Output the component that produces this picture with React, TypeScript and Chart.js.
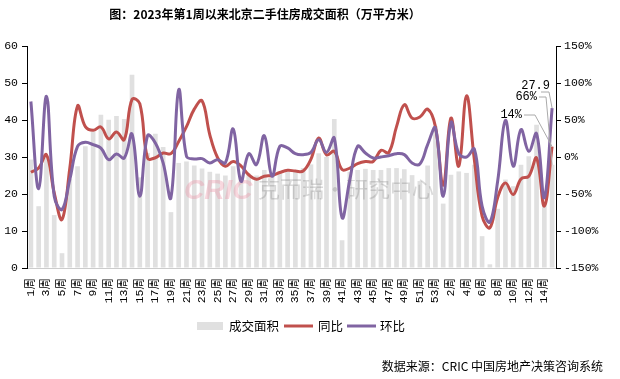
import React, { useEffect, useRef } from "react";
import { Chart, registerables } from "chart.js";

Chart.register(...registerables);

const titleText = "图：2023年第1周以来北京二手住房成交面积（万平方米）";
const sourceText = "数据来源：CRIC 中国房地产决策咨询系统";
const seriesNames = ["成交面积", "同比", "环比"];

const weekLabels: string[] = [
  "1周", "2周", "3周", "4周", "5周", "6周", "7周", "8周", "9周", "10周",
  "11周", "12周", "13周", "14周", "15周", "16周", "17周", "18周", "19周", "20周",
  "21周", "22周", "23周", "24周", "25周", "26周", "27周", "28周", "29周", "30周",
  "31周", "32周", "33周", "34周", "35周", "36周", "37周", "38周", "39周", "40周",
  "41周", "42周", "43周", "44周", "45周", "46周", "47周", "48周", "49周", "50周",
  "51周", "52周", "53周",
  "1周", "2周", "3周", "4周", "5周", "6周", "7周", "8周", "9周", "10周",
  "11周", "12周", "13周", "14周", "15周",
];

// 成交面积（万平方米）
const areaValues: number[] = [
  29.3, 16.7, 30, 14.3, 4.0, 24, 27.5, 32.9, 36.9, 41.4,
  40.1, 41.1, 40.3, 52.2, 24.5, 31.1, 36.3, 32.7, 15.1, 28.4,
  28.8, 27.7, 26.9, 26, 25.5, 25, 27.5, 25, 25.5, 25,
  26.5, 25, 25.5, 26, 26.5, 27, 28, 31, 30, 40.3,
  7.5, 26, 26.5, 26.8, 26.5, 26.5, 27, 27, 26.7, 25.1,
  23.5, 27.7, 38.3, 17.4, 25.2, 26.1, 25.7, 27.9, 8.6, 1.0,
  16.0, 23.9, 22.1, 27.9, 30.2, 38.7, 16.8, 27.9,
];

// 同比（%）
const yoyValues: number[] = [
  -20.6, -15, 3, -48.5, -84.5, -15, 69, 41, 36, 40.5,
  24.5, 33.7, 23.4, 78, 72, -1.5, -1, 5.4, 4.5, 21,
  41, 64.7, 76, 30, -1, -12.5, -6, -12, -24, -30,
  -26, -25, -21, -18, -19, -19, -3, 25.6, 3, 7.7,
  -17, -15, -9, -6, -6, 9, 6, 41, 70.6, 52.6,
  54, 64.7, 41, -38, 52.6, -12.5, 82.7, -3.6, -80, -95.6,
  -55, -35, -50.7, -29.6, -26, -1.3, -66.4, 14,
];

// 环比（%）
const momValues: number[] = [
  75, -43, 82, -53, -71, -30.5, 14.4, 20, 16.7, 12,
  -3.6, 4, -1.3, 31, -53, 28.8, 19, -8, -55, 90.8,
  1, -2.6, -2.2, -8, -3.6, -8, 37.8, -32.8, 4.5, -10.3,
  28.8, -26, 14.4, 12.2, 4.5, 3.2, 6.3, 23.4, 6.3, 25.6,
  -82, -30.5, 14.4, 5.4, -1.3, 0, 1.8, 4.5, 3.2, -8,
  -9.4, 16.7, 39, -53, 46.7, 4.5, 0, 10.8, -66.4, -88,
  -32.8, 49.4, -12.5, 36.9, 7.7, 31.5, -55, 66,
];

const leftAxis = { min: 0, max: 60, step: 10 };
const rightAxis = { min: -150, max: 150, step: 50 };

const BAR_COLOR = "#e0e0e0";
const RED = "#c0504d";
const PURPLE = "#8064a2";
const NUM_FONT = "'Liberation Mono', 'Noto Sans CJK SC', monospace";
const CJK_FONT = "'Noto Sans CJK SC', 'Liberation Sans', sans-serif";

const decorPlugin = {
  id: "decor",
  afterDatasetDraw(chart: any, args: any) {
    if (args.index !== 0) return;
    const ctx = chart.ctx;
    const a = chart.chartArea;
    ctx.save();
    ctx.beginPath();
    ctx.rect(a.left, a.top, a.right - a.left, a.bottom - a.top);
    ctx.clip();
    ctx.textBaseline = "alphabetic";
    ctx.textAlign = "left";
    ctx.font = "italic bold 28px 'Liberation Sans', sans-serif";
    ctx.fillStyle = "rgba(236,140,160,0.35)";
    ctx.fillText("CRIC", 184, 199);
    ctx.font = "22px " + CJK_FONT;
    ctx.fillStyle = "rgba(120,120,120,0.28)";
    ctx.fillText("克而瑞·研究中心", 258, 197);
    ctx.restore();
  },
  afterDraw(chart: any) {
    const ctx = chart.ctx;
    ctx.save();
    // title
    ctx.fillStyle = "#000";
    ctx.textAlign = "center";
    ctx.textBaseline = "middle";
    ctx.font = "bold 12px " + CJK_FONT;
    ctx.fillText(titleText, 265, 14);

    // legend
    const ly = 326;
    ctx.fillStyle = BAR_COLOR;
    ctx.fillRect(197, ly - 4, 26, 8);
    ctx.font = "12.5px " + CJK_FONT;
    ctx.fillStyle = "#000";
    ctx.textAlign = "left";
    ctx.fillText(seriesNames[0], 229, ly);
    ctx.strokeStyle = RED;
    ctx.lineWidth = 3;
    ctx.beginPath();
    ctx.moveTo(284, ly);
    ctx.lineTo(313, ly);
    ctx.stroke();
    ctx.fillText(seriesNames[1], 318, ly);
    ctx.strokeStyle = PURPLE;
    ctx.beginPath();
    ctx.moveTo(347, ly);
    ctx.lineTo(376, ly);
    ctx.stroke();
    ctx.fillText(seriesNames[2], 380, ly);

    // source
    ctx.textAlign = "right";
    ctx.font = "12px " + CJK_FONT;
    ctx.fillText(sourceText, 603, 366);

    // end labels
    const last = weekLabels.length - 1;
    const xs = chart.scales.x;
    const px = xs.getPixelForValue(last);
    const barTop = chart.scales.y.getPixelForValue(areaValues[last]);
    const redY = chart.scales.y1.getPixelForValue(yoyValues[last]);
    const purY = chart.scales.y1.getPixelForValue(momValues[last]);
    ctx.font = "12px " + NUM_FONT;
    ctx.fillStyle = "#000";
    ctx.textAlign = "right";
    ctx.fillText(String(areaValues[last]), 550, 86);
    ctx.fillText(momValues[last] + "%", 537, 97);
    ctx.fillText(yoyValues[last] + "%", 522, 115);
    ctx.strokeStyle = "#aaaaaa";
    ctx.lineWidth = 1;
    const lead = (pts: number[][]) => {
      ctx.beginPath();
      ctx.moveTo(pts[0][0], pts[0][1]);
      for (let i = 1; i < pts.length; i++) ctx.lineTo(pts[i][0], pts[i][1]);
      ctx.stroke();
    };
    lead([[524, 115], [535, 115], [px, redY]]);
    lead([[539, 97], [546, 97], [px, barTop]]);
    lead([[541, 92], [549, 92], [px, purY]]);
    ctx.restore();
  },
};

export default function App() {
  const ref = useRef<HTMLCanvasElement>(null);
  useEffect(() => {
    document.body.style.margin = "0";
    const canvas = ref.current;
    if (!canvas) return;
    const chart = new Chart(canvas, {
      type: "bar",
      data: {
        labels: weekLabels,
        datasets: [
          {
            type: "bar",
            label: seriesNames[0],
            data: areaValues,
            backgroundColor: BAR_COLOR,
            yAxisID: "y",
            order: 3,
            barPercentage: 0.6,
            categoryPercentage: 1,
          } as any,
          {
            type: "line",
            label: seriesNames[1],
            data: yoyValues,
            borderColor: RED,
            backgroundColor: RED,
            borderWidth: 3,
            pointRadius: 0,
            tension: 0.4,
            fill: false,
            yAxisID: "y1",
            order: 2,
          },
          {
            type: "line",
            label: seriesNames[2],
            data: momValues,
            borderColor: PURPLE,
            backgroundColor: PURPLE,
            borderWidth: 3,
            pointRadius: 0,
            tension: 0.4,
            fill: false,
            yAxisID: "y1",
            order: 1,
          },
        ],
      },
      options: {
        responsive: false,
        animation: false,
        devicePixelRatio: 1,
        layout: { padding: { top: 46, bottom: 71, left: 0, right: 0 } },
        plugins: {
          legend: { display: false },
          title: { display: false },
          tooltip: { enabled: false },
        },
        scales: {
          x: {
            type: "category",
            offset: true,
            grid: { display: false, drawTicks: false },
            border: { display: true, color: "#cccccc", width: 1 },
            ticks: {
              autoSkip: false,
              minRotation: 90,
              maxRotation: 90,
              padding: 10,
              color: "#000",
              font: { size: 11.5, family: NUM_FONT },
              callback: (_v: any, i: number) => (i % 2 === 0 ? weekLabels[i] : ""),
            },
            afterFit: (s: any) => {
              s.height = 40;
            },
          },
          y: {
            position: "left",
            min: leftAxis.min,
            max: leftAxis.max,
            grid: { drawOnChartArea: false, drawTicks: true, tickLength: 5, color: "#000" },
            border: { display: true, color: "#000", width: 1 },
            ticks: {
              stepSize: leftAxis.step,
              padding: 4,
              color: "#000",
              font: { size: 11.5, family: NUM_FONT },
            },
            afterFit: (s: any) => {
              s.width = 27;
            },
          },
          y1: {
            position: "right",
            min: rightAxis.min,
            max: rightAxis.max,
            grid: { drawOnChartArea: false, drawTicks: true, tickLength: 5, color: "#000" },
            border: { display: true, color: "#000", width: 1 },
            ticks: {
              stepSize: rightAxis.step,
              padding: 3,
              color: "#000",
              font: { size: 11.5, family: NUM_FONT },
              callback: (v: any) => v + "%",
            },
            afterFit: (s: any) => {
              s.width = 64;
            },
          },
        },
      },
      plugins: [decorPlugin],
    });
    return () => chart.destroy();
  }, []);
  return (
    <div style={{ width: 620, height: 379, position: "relative", background: "#fff" }}>
      <canvas ref={ref} width={620} height={379} style={{ display: "block" }} />
    </div>
  );
}
